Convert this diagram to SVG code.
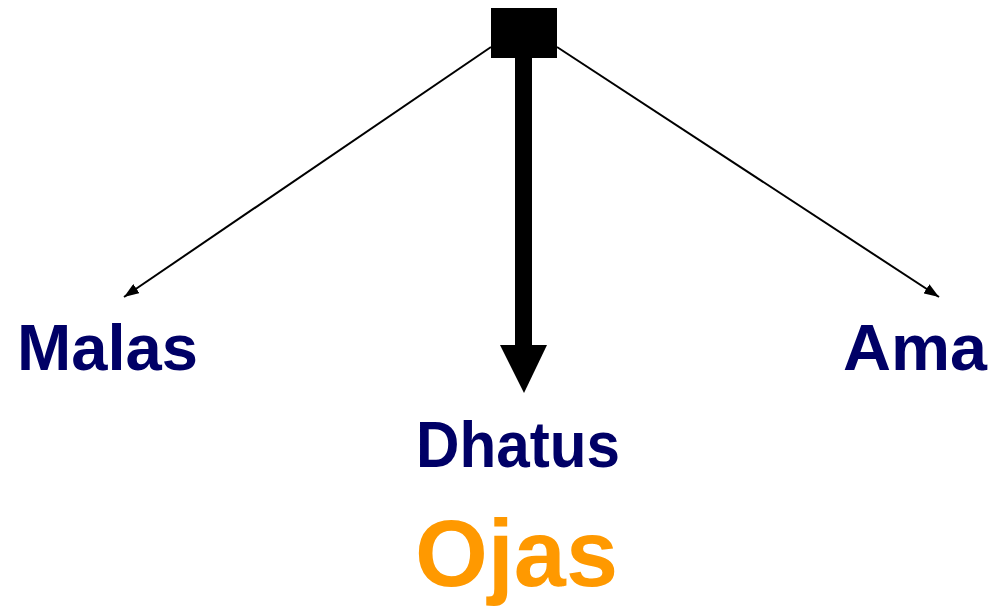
<svg xmlns="http://www.w3.org/2000/svg" width="991" height="606" viewBox="0 0 991 606">
<style>
.lbl{font-family:"Liberation Sans",Arial,sans-serif;font-weight:bold;fill:#000066;font-size:64px;text-anchor:middle}
.oj{font-family:"Liberation Sans",Arial,sans-serif;font-weight:bold;fill:#FF9900;font-size:94px;text-anchor:middle}
.thin{stroke:#000;stroke-width:2;fill:none}
</style>
<defs>
<marker id="ahs" viewBox="0 0 10 10" refX="10" refY="5" markerWidth="15" markerHeight="11" preserveAspectRatio="none" markerUnits="userSpaceOnUse" orient="auto">
<path d="M0,0 L10,5 L0,10 Z" fill="#000"/>
</marker>
</defs>
<rect width="991" height="606" fill="#fff"/>
<g id="connectors">
<line class="thin" x1="491" y1="47" x2="124" y2="297" marker-end="url(#ahs)"/>
<line class="thin" x1="557" y1="47" x2="939" y2="297" marker-end="url(#ahs)"/>
<rect x="515" y="55" width="17" height="292" fill="#000"/>
<polygon points="500,345 547,345 524,393" fill="#000"/>
</g>
<g id="source"><rect x="491" y="8" width="66" height="50" fill="#000"/></g>
<g id="malas"><text class="lbl" x="107.5" y="370" textLength="181" lengthAdjust="spacingAndGlyphs">Malas</text></g>
<g id="dhatus"><text class="lbl" x="518" y="467" textLength="204" lengthAdjust="spacingAndGlyphs">Dhatus</text></g>
<g id="ama"><text class="lbl" x="915" y="370" textLength="144" lengthAdjust="spacingAndGlyphs">Ama</text></g>
<g id="ojas"><text class="oj" x="516.5" y="586" textLength="203" lengthAdjust="spacingAndGlyphs">Ojas</text></g>
</svg>
